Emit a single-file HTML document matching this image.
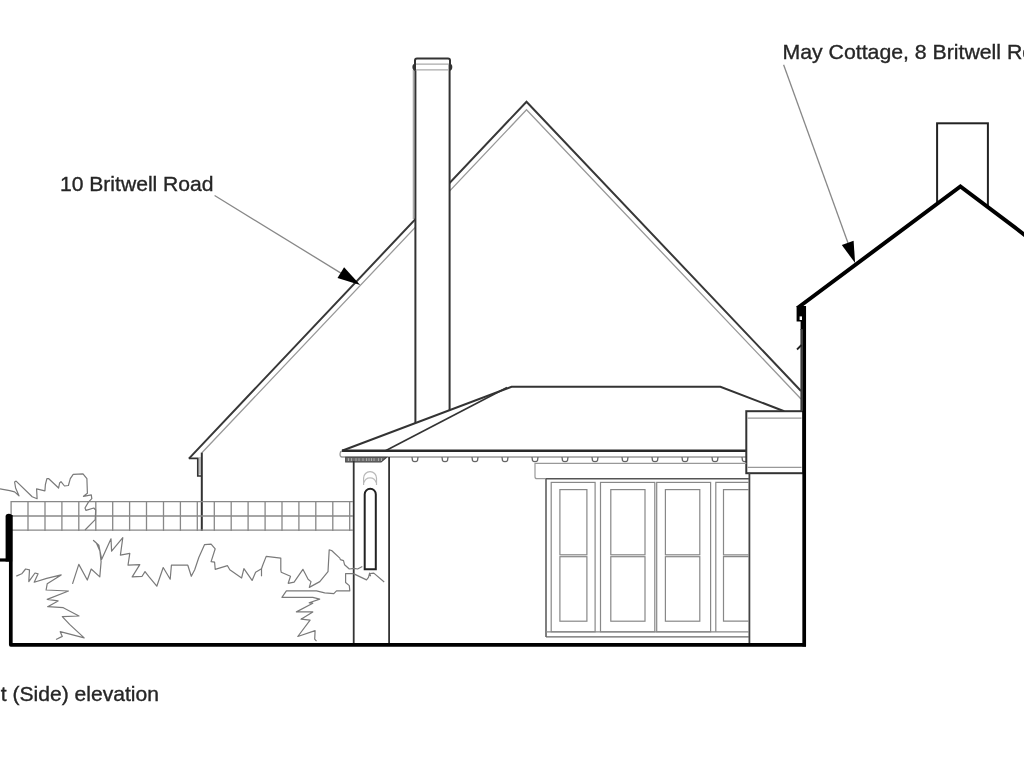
<!DOCTYPE html>
<html><head><meta charset="utf-8"><style>
html,body{margin:0;padding:0;background:#fff;}
svg{display:block;filter:blur(0.4px);}
text{font-family:"Liberation Sans",sans-serif;fill:#262626;stroke:#262626;stroke-width:0.35px;}
</style></head><body>
<svg width="1024" height="768" viewBox="0 0 1024 768">
<rect width="1024" height="768" fill="#fff"/>
<g fill="none" stroke-linejoin="miter" stroke-linecap="butt">
<!-- big gable roof -->
<polyline points="188.9,458.6 526.5,101.7 801,391" stroke="#383838" stroke-width="2"/>
<polyline points="201.9,452.8 526.5,109.8 801,399" stroke="#999" stroke-width="1.3"/>
<!-- left eave detail -->
<polyline points="188.9,458.3 197.8,458.3 197.8,476 201,476" stroke="#333" stroke-width="1.7"/>
<line x1="199.9" y1="457" x2="199.9" y2="474.5" stroke="#aaa" stroke-width="1.3"/>
<line x1="201.8" y1="452.6" x2="201.8" y2="531" stroke="#333" stroke-width="2"/>
</g>

<!-- chimney main -->
<g>
<rect x="415.3" y="68" width="34.3" height="360" fill="#fff" stroke="none"/>
<line x1="413.4" y1="70" x2="413.4" y2="219" stroke="#aaa" stroke-width="1.4"/>
<line x1="415.4" y1="60" x2="415.4" y2="423" stroke="#333" stroke-width="2"/>
<line x1="449.6" y1="60" x2="449.6" y2="410.5" stroke="#333" stroke-width="2"/>
<path d="M415,70.5 L415,60.5 Q415,58.5 417,58.5 L448,58.5 Q450,58.5 450,60.5 L450,64" fill="#fff" stroke="#333" stroke-width="2"/>
<path d="M415.6,63.4 Q412.4,63.4 412.4,67.1 Q412.4,70.8 415.6,70.8 Z" fill="#333" stroke="none"/>
<path d="M449.4,63.4 Q452.3,63.4 452.3,67.1 Q452.3,70.8 449.4,70.8 Z" fill="#333" stroke="none"/>
<line x1="416" y1="64.2" x2="449" y2="64.2" stroke="#aaa" stroke-width="1.2"/>
<line x1="416" y1="69.8" x2="449" y2="69.8" stroke="#aaa" stroke-width="1.2"/>
</g>

<!-- hip roof extension -->
<g fill="none">
<polygon points="342,450.7 511.6,386.8 720.4,386.8 784.2,411.2 746.3,411.2 746.3,450.7" fill="#fff" stroke="none"/>
<polyline points="342,450.7 511.6,386.8 720.4,386.8 784.2,411.2" stroke="#333" stroke-width="2"/>
<line x1="385.5" y1="450.7" x2="507" y2="387.5" stroke="#333" stroke-width="1.6"/>
<line x1="342" y1="450.8" x2="746.3" y2="450.8" stroke="#2a2a2a" stroke-width="2.5"/>
<path d="M746.3,457 L342,457 Q340,457 340,454 Q340,451.5 342,451" stroke="#999" stroke-width="1.3"/>
</g>

<!-- rafter ends -->
<g fill="none" stroke="#666" stroke-width="1.3" id="rafters">
<path d="M412,457 L412.5,460.5 Q413,461.7 415,461.7 Q417,461.7 417.5,460.5 L418,457"/>
<path d="M442,457 L442.5,460.5 Q443,461.7 445,461.7 Q447,461.7 447.5,460.5 L448,457"/>
<path d="M472,457 L472.5,460.5 Q473,461.7 475,461.7 Q477,461.7 477.5,460.5 L478,457"/>
<path d="M502,457 L502.5,460.5 Q503,461.7 505,461.7 Q507,461.7 507.5,460.5 L508,457"/>
<path d="M532,457 L532.5,460.5 Q533,461.7 535,461.7 Q537,461.7 537.5,460.5 L538,457"/>
<path d="M562,457 L562.5,460.5 Q563,461.7 565,461.7 Q567,461.7 567.5,460.5 L568,457"/>
<path d="M592,457 L592.5,460.5 Q593,461.7 595,461.7 Q597,461.7 597.5,460.5 L598,457"/>
<path d="M622,457 L622.5,460.5 Q623,461.7 625,461.7 Q627,461.7 627.5,460.5 L628,457"/>
<path d="M652,457 L652.5,460.5 Q653,461.7 655,461.7 Q657,461.7 657.5,460.5 L658,457"/>
<path d="M682,457 L682.5,460.5 Q683,461.7 685,461.7 Q687,461.7 687.5,460.5 L688,457"/>
<path d="M712,457 L712.5,460.5 Q713,461.7 715,461.7 Q717,461.7 717.5,460.5 L718,457"/>
<path d="M742,457 L742.5,460.5 Q743,461.7 745,461.7 Q747,461.7 747.5,460.5 L748,457"/>
</g>

<!-- dentils on pier -->
<g>
<path d="M345.7,457.2 L345.7,462 L381.1,462 L386.6,457.2 Z" fill="#6e6e6e" stroke="#444" stroke-width="1.1"/><line x1="348.5" y1="458.2" x2="348.5" y2="461" stroke="#bbb" stroke-width="0.8"/><line x1="351.5" y1="458.2" x2="351.5" y2="461" stroke="#bbb" stroke-width="0.8"/><line x1="356.0" y1="458.2" x2="356.0" y2="461" stroke="#bbb" stroke-width="0.8"/><line x1="359.0" y1="458.2" x2="359.0" y2="461" stroke="#bbb" stroke-width="0.8"/><line x1="363.0" y1="458.2" x2="363.0" y2="461" stroke="#bbb" stroke-width="0.8"/><line x1="366.5" y1="458.2" x2="366.5" y2="461" stroke="#bbb" stroke-width="0.8"/><line x1="369.0" y1="458.2" x2="369.0" y2="461" stroke="#bbb" stroke-width="0.8"/><line x1="371.5" y1="458.2" x2="371.5" y2="461" stroke="#bbb" stroke-width="0.8"/><line x1="374.0" y1="458.2" x2="374.0" y2="461" stroke="#bbb" stroke-width="0.8"/><line x1="378.5" y1="458.2" x2="378.5" y2="461" stroke="#bbb" stroke-width="0.8"/><line x1="381.5" y1="458.2" x2="381.5" y2="461" stroke="#bbb" stroke-width="0.8"/>
</g>

<!-- pier -->
<line x1="353.7" y1="461" x2="353.7" y2="645" stroke="#333" stroke-width="1.8"/>
<line x1="389.1" y1="457" x2="389.1" y2="645" stroke="#333" stroke-width="1.8"/>
<path d="M364.7,569.2 L364.7,494.3 A5.55,5.55 0 0 1 375.8,494.3 L375.8,569.2 Z" fill="none" stroke="#222" stroke-width="2"/>
<path d="M363.6,485 L363.6,478.1 A6.45,6.45 0 0 1 376.5,478.1 L376.5,485" fill="none" stroke="#b8b8b8" stroke-width="1.2"/>
<path d="M364.3,482.5 A5.75,4.6 0 0 1 375.8,482.5" fill="none" stroke="#bdbdbd" stroke-width="1.2"/>

<!-- box -->
<rect x="746.3" y="411.2" width="57" height="62" fill="#fff" stroke="#333" stroke-width="2"/>
<line x1="747.5" y1="418.2" x2="801.5" y2="418.2" stroke="#999" stroke-width="1.2"/>
<line x1="747.5" y1="467.3" x2="801.5" y2="467.3" stroke="#999" stroke-width="1.2"/>
<line x1="749.4" y1="473" x2="749.4" y2="645" stroke="#444" stroke-width="1.8"/>

<!-- beam -->
<path d="M746.3,463.4 L535,463.4 L535,476.7 Q535,478.7 537,478.7 L546,478.7" fill="none" stroke="#999" stroke-width="1.2"/>
<line x1="546" y1="478.8" x2="749" y2="478.8" stroke="#555" stroke-width="1.6"/>

<!-- doors -->
<g fill="none" stroke="#888" stroke-width="1.2" id="doors">
<line x1="546" y1="478.8" x2="546" y2="637" stroke="#555" stroke-width="1.5"/>
<line x1="546" y1="631.8" x2="749" y2="631.8"/>
<line x1="546" y1="636.9" x2="749" y2="636.9" stroke="#666"/>
<rect x="551.2" y="482.4" width="43.9" height="149.4"/>
<rect x="600.5" y="482.4" width="54.3" height="149.4"/>
<rect x="656.7" y="482.4" width="53.9" height="149.4"/>
<polyline points="749,482.4 715.8,482.4 715.8,631.8"/>
<rect x="559.9" y="489.6" width="27" height="65.2"/>
<rect x="559.9" y="556.7" width="27" height="64.5"/>
<rect x="610.8" y="489.6" width="34.2" height="65.2"/>
<rect x="610.8" y="556.7" width="34.2" height="64.5"/>
<rect x="665.4" y="489.6" width="34.4" height="65.2"/>
<rect x="665.4" y="556.7" width="34.4" height="64.5"/>
<polyline points="749,489.6 723.5,489.6 723.5,554.8 749,554.8"/>
<polyline points="749,556.7 723.5,556.7 723.5,621.2 749,621.2"/>
</g>

<!-- fence -->
<g stroke="#888" stroke-width="1.3" fill="none" id="fence">
<line x1="11.1" y1="501" x2="11.1" y2="531"/>
<line x1="28.0" y1="501" x2="28.0" y2="531"/>
<line x1="45.0" y1="501" x2="45.0" y2="531"/>
<line x1="61.9" y1="501" x2="61.9" y2="531"/>
<line x1="78.8" y1="501" x2="78.8" y2="531"/>
<line x1="95.8" y1="501" x2="95.8" y2="531"/>
<line x1="112.7" y1="501" x2="112.7" y2="531"/>
<line x1="129.6" y1="501" x2="129.6" y2="531"/>
<line x1="146.5" y1="501" x2="146.5" y2="531"/>
<line x1="163.5" y1="501" x2="163.5" y2="531"/>
<line x1="180.4" y1="501" x2="180.4" y2="531"/>
<line x1="197.3" y1="501" x2="197.3" y2="531"/>
<line x1="214.3" y1="501" x2="214.3" y2="531"/>
<line x1="231.2" y1="501" x2="231.2" y2="531"/>
<line x1="248.1" y1="501" x2="248.1" y2="531"/>
<line x1="265.1" y1="501" x2="265.1" y2="531"/>
<line x1="282.0" y1="501" x2="282.0" y2="531"/>
<line x1="298.9" y1="501" x2="298.9" y2="531"/>
<line x1="315.8" y1="501" x2="315.8" y2="531"/>
<line x1="332.8" y1="501" x2="332.8" y2="531"/>
<line x1="349.7" y1="501" x2="349.7" y2="531"/>

<line x1="11" y1="501.7" x2="353" y2="501.7"/>
<line x1="11" y1="516" x2="353" y2="516"/>
<line x1="11" y1="530.2" x2="353" y2="530.2"/>
</g>

<!-- right house -->
<g fill="none">
<rect x="937.1" y="123.3" width="50.8" height="90" fill="#fff" stroke="#222" stroke-width="2"/>
<polygon points="805,302 960.4,186.5 1030,239 1030,700 805,700" fill="#fff" stroke="none"/>
<polyline points="797.5,308 960.4,186.5 1030,238.9" stroke="#000" stroke-width="4"/>
<line x1="804.2" y1="306" x2="804.2" y2="646.4" stroke="#000" stroke-width="3.7"/>
<path d="M796.6,306 L803,306 L803,330 L800.6,330 L800.6,321.5 L796.6,321.5 Z" fill="#000" stroke="none"/>
<rect x="799.6" y="316.4" width="2.4" height="3.6" fill="#fff"/>
<rect x="800.4" y="329" width="2.4" height="82" fill="#3a3a3a"/>
<path d="M797,349.5 L801.5,345" stroke="#222" stroke-width="1.8"/>
</g>

<!-- ground + left wall -->
<g fill="none" stroke="#000">
<polyline points="10.8,515 10.8,644.8 806,644.8" stroke-width="3.7" stroke-linejoin="round"/>
<path d="M5.6,561.5 L5.6,516.5 Q5.6,513.8 8.8,513.8 Q12.2,513.8 12.2,516.5 L12.2,561.5 Z" fill="#000" stroke="none"/>
<line x1="0" y1="560" x2="9" y2="560" stroke-width="3.2"/>
</g>

<!-- bushes -->
<g fill="none" stroke="#7a7a7a" stroke-width="1.2" stroke-linejoin="round" id="bushes">
<path d="M0.0,488.9 L9.8,490.6 L14.6,491.9 L19.0,495.8 L15.6,488.0 L14.6,482.0 L16.1,481.1 L32.2,496.7 L37.1,498.7 L36.6,488.9 L44.9,490.9 L45.4,484.5 L46.9,478.7 L48.8,478.7 L58.6,488.0 L59.6,483.0 L61.0,481.6 L64.5,486.0 L68.4,485.5 L70.3,478.7 L73.2,474.3 L83.0,473.8 L86.9,478.7 L87.4,493.3 L83.5,496.3 L91.3,494.8 L91.8,498.7 L88.4,502.1 L85.0,508.0 L86.0,510.4 L93.8,508.0 L95.7,510.0 L95.2,519.7 L85.0,530.0"/>
<path d="M16.3,576.1 L21.7,573.8 L25.6,569.0 L29.5,569.8 L28.8,581.6 L35.0,573.0 L38.1,573.8 L34.2,582.2 L46.7,578.4 L61.2,574.9 L47.2,583.8 L46.1,590.0 L68.5,591.0 L47.2,599.4 L58.1,600.9 L47.7,606.7 L63.3,607.7 L79.0,616.0 L62.3,616.6 L69.6,624.4 L84.2,637.9 L60.2,631.7 L62.3,636.4 L56.0,639.5"/>
<path d="M72.5,583.9 L78.8,564.4 L87.3,580.0 L91.2,569.0 L99.8,576.9 L101.1,561.6 L99.9,551.1 L96.4,542.9 L93.5,540.5 L98.8,545.2 L101.7,559.3 L111.0,538.8 L111.6,551.1 L122.8,537.6 L120.4,555.2 L129.8,553.4 L128.0,565.2 L139.8,564.6 L132.2,576.9 L142.1,576.3 L145.0,571.6 L149.1,576.9 L156.8,586.2 L163.2,567.5 L170.2,579.2 L171.4,565.2 L187.8,565.2 L191.3,576.3 L194.7,569.8 L198.8,557.5 L204.6,544.6 L211.1,544.1 L215.2,548.8 L211.1,561.6 L214.6,562.2 L215.2,569.3 L227.5,565.7 L229.8,569.8 L241.6,578.0 L243.9,568.7 L252.1,580.4 L255.6,572.2 L261.5,568.7 L262.7,565.2 L266.2,556.4 L280.8,558.1 L280.8,569.8 L281.2,572.2 L290.5,576.3 L288.2,583.3 L294.1,582.2 L302.9,569.3 L308.1,579.2 L311.0,581.6 L309.3,587.4 L319.8,581.6 L328.0,571.6 L329.2,549.9 L331.6,550.5 L339.8,558.1 L340.4,559.6 L343.5,560.6 L344.6,564.8 L349.3,569.0 L354.0,568.4 L357.6,569.0 L362.3,566.4"/>
<path d="M261.5,568.7 L261.5,576.3"/>
<path d="M353.4,573.6 L345.6,573.6 L345.6,582.5 L349.3,585.6 L349.8,590.8 L336.5,590.9 L333.8,593.7 L324.7,592.8 L316.5,590.9 L286.4,590.9 L281.9,597.3 L312.8,597.3 L319.7,599.1 L309.2,602.8 L312.8,603.2 L296.4,611.9 L312.8,611.9 L301.0,619.2 L310.1,620.1 L297.8,636.5 L315.1,630.6 L314.7,639.2 L316.5,641.1"/>
<path d="M353.4,573.6 L366.5,579.9 L368.5,577.3 L369.6,573.1 L370.6,576.2"/>
<path d="M370.0,573.5 L373.8,573.1 L384.2,582.0"/>
</g>

<!-- leaders -->
<g>
<line x1="214.6" y1="195.5" x2="345" y2="275.6" stroke="#888" stroke-width="1.3"/>
<polygon points="360.2,284.9 344.1,267.3 337.5,277.9" fill="#000"/>
<line x1="783.6" y1="64.7" x2="848" y2="243" stroke="#888" stroke-width="1.3"/>
<polygon points="855.1,263 841.8,245.1 853.6,240.8" fill="#000"/>
</g>

<!-- text -->
<text transform="translate(59.96,190.7) scale(1.0196,1)" font-size="20.7">10 Britwell Road</text>
<text transform="translate(782.56,59.3) scale(1.027,1)" font-size="20.7">May Cottage, 8 Britwell Road</text>
<text transform="translate(0.82,701.2) scale(1.054,1)" font-size="20">t (Side) elevation</text>
</svg>
</body></html>
